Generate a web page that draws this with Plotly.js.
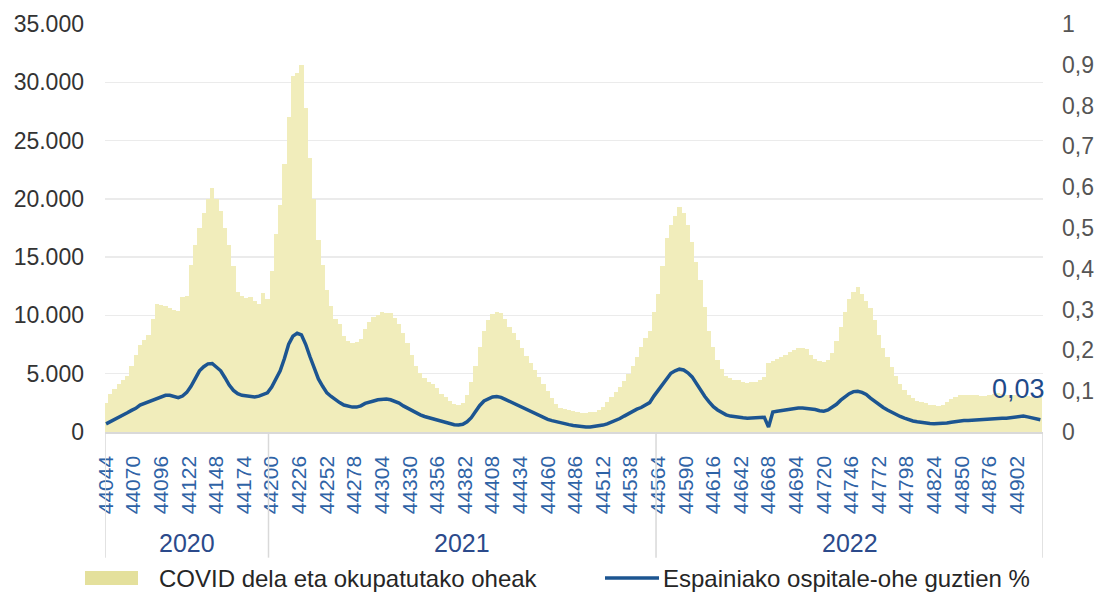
<!DOCTYPE html>
<html>
<head>
<meta charset="utf-8">
<script src="https://cdn.plot.ly/plotly-3.0.1.min.js"></script>
<style>
html,body{margin:0;padding:0;background:#fff;}
#chart{width:1104px;height:602px;}
</style>
</head>
<body>
<div id="chart"></div>
<script>
// Excel serial day of first sample, sampling step (days)
const startDay = 44044;
const stepDays = 4;

// COVID dela eta okupatutako oheak (beds occupied, every 4th day)
const beds = [
 2500,3300,3700,4100,4500,4800,5700,6600,7500,7900,
 8300,9700,11000,10900,10800,10600,10500,10400,11600,11700,
 14300,16000,17500,18800,20000,20900,20000,19000,17500,16000,
 14200,12000,11700,11500,11600,11200,11000,11900,11400,13800,
 17000,19500,23000,27000,30500,30800,31500,27800,23500,20000,
 16500,14300,12200,10800,9700,9300,8200,7800,7600,7700,
 8000,8800,9400,9850,10000,10300,10200,10200,9800,9300,
 8500,7600,6600,5700,5100,4600,4300,4100,3800,3300,
 3000,2700,2400,2300,2500,3200,4300,5700,7300,8700,
 9600,10100,10300,10200,9700,9000,8500,7900,7200,6500,
 5900,5300,4700,4100,3500,2900,2400,2100,1950,1850,
 1800,1700,1650,1650,1700,1750,1900,2150,2600,3000,
 3400,3900,4400,5000,5700,6450,7300,8100,8700,10300,
 11800,14200,16600,17800,18500,19300,18800,17800,16300,14600,
 13000,10700,8700,7300,6200,5400,4800,4600,4500,4450,
 4300,4200,4250,4300,4500,4700,5900,6100,6300,6400,
 6600,6850,7000,7200,7200,7100,6600,6300,6100,6000,
 6200,6800,7800,9000,10300,11400,12000,12400,11800,11200,
 10600,9600,8300,7200,6400,5600,4800,4100,3600,3200,
 2900,2700,2550,2450,2350,2300,2200,2300,2600,2850,
 3000,3150,3200,3200,3150,3150,3100,3100,3150,3250,
 3350,3300,3200,3150,3150,3100,3100,3050,3000,3000,
 3000
];

// Espainiako ospitale-ohe guztien % (share, every 4th day)
const share = [
 0.020,0.025,0.031,0.037,0.042,0.047,0.053,0.058,0.066,0.070,
 0.074,0.078,0.083,0.087,0.090,0.090,0.087,0.084,0.088,0.097,
 0.112,0.130,0.150,0.160,0.167,0.168,0.160,0.150,0.133,0.115,
 0.102,0.094,0.090,0.088,0.087,0.086,0.088,0.092,0.096,0.110,
 0.130,0.150,0.180,0.215,0.235,0.242,0.238,0.215,0.185,0.155,
 0.130,0.112,0.096,0.087,0.079,0.072,0.066,0.063,0.061,0.061,
 0.064,0.070,0.074,0.076,0.079,0.081,0.081,0.079,0.076,0.071,
 0.064,0.058,0.052,0.046,0.042,0.038,0.035,0.031,0.028,0.026,
 0.023,0.020,0.018,0.017,0.019,0.025,0.035,0.050,0.065,0.076,
 0.082,0.086,0.087,0.085,0.080,0.075,0.070,0.065,0.059,0.054,
 0.049,0.045,0.040,0.036,0.031,0.028,0.025,0.022,0.020,0.018,
 0.016,0.014,0.013,0.012,0.012,0.013,0.015,0.017,0.020,0.024,
 0.028,0.033,0.039,0.045,0.051,0.056,0.060,0.065,0.072,0.088,
 0.102,0.118,0.133,0.144,0.150,0.154,0.152,0.145,0.135,0.118,
 0.102,0.087,0.074,0.062,0.054,0.047,0.042,0.039,0.037,0.036,
 0.035,0.034,0.034,0.034,0.035,0.036,0.012,0.049,0.051,0.053,
 0.055,0.056,0.058,0.059,0.059,0.058,0.057,0.055,0.052,0.051,
 0.054,0.060,0.068,0.078,0.087,0.094,0.099,0.100,0.097,0.092,
 0.083,0.075,0.068,0.060,0.054,0.048,0.043,0.038,0.034,0.030,
 0.027,0.025,0.023,0.022,0.021,0.020,0.020,0.020,0.022,0.024,
 0.026,0.027,0.028,0.028,0.029,0.029,0.030,0.031,0.032,0.033,
 0.034,0.034,0.034,0.035,0.036,0.038,0.039,0.037,0.034,0.032,
 0.030
];

// Year groups on the category axis (Excel serial days)
const years = ["2020", "2021", "2022"];
const yearStart = [44044, 44197, 44562];
const yearEnd = [44197, 44562, 44927];

const seriesNames = ["COVID dela eta okupatutako oheak", "Espainiako ospitale-ohe guztien %"];
const lastLabel = "0,03";

const days = beds.map((_, i) => startDay + stepDays * i);

const barColor = "#f1edbb";
const lineColor = "#1c5591";
const FONT = "Liberation Sans, Arial, sans-serif";

const traces = [
  {
    type: "bar", x: days, y: beds, width: stepDays,
    marker: {color: barColor, line: {width: 0}},
    name: seriesNames[0], showlegend: false, hoverinfo: "x+y"
  },
  {
    type: "scatter", mode: "lines", x: days, y: share, yaxis: "y2",
    line: {color: lineColor, width: 3.5},
    name: seriesNames[1], showlegend: false
  }
];

const shapes = [];
const annotations = [];
// separators of year groups
const bounds = [yearStart[0] - 1, yearStart[1], yearStart[2], 44926.5];
bounds.forEach(b => {
  shapes.push({type: "line", xref: "x", yref: "paper", x0: b, x1: b, y0: 0, y1: -0.308,
    line: {color: "#d9d9d9", width: 1.5}});
});
years.forEach((yr, k) => {
  annotations.push({xref: "x", yref: "paper", x: (yearStart[k] + yearEnd[k]) / 2, y: -0.272,
    text: yr, showarrow: false, xanchor: "center", yanchor: "middle",
    font: {family: FONT, size: 25, color: "#2b4a8b"}});
});
// last value label
annotations.push({xref: "x", yref: "y2", x: 44903, y: 0.105, text: lastLabel, showarrow: false,
  xanchor: "center", yanchor: "middle",
  font: {family: FONT, size: 27, color: "#1f4a8a"}});

// custom legend
shapes.push({type: "rect", xref: "paper", yref: "paper",
  x0: (85 - 105) / 938, x1: (138 - 105) / 938, y0: -(571 - 432) / 408, y1: -(585 - 432) / 408,
  fillcolor: "#e4e09c", line: {width: 0}});
annotations.push({xref: "paper", yref: "paper", x: (157 - 105) / 938, y: -(578 - 432) / 408,
  text: seriesNames[0], showarrow: false, xanchor: "left", yanchor: "middle",
  font: {family: FONT, size: 24, color: "#262626"}});
shapes.push({type: "line", xref: "paper", yref: "paper",
  x0: (605 - 105) / 938, x1: (659 - 105) / 938, y0: -(578 - 432) / 408, y1: -(578 - 432) / 408,
  line: {color: lineColor, width: 3.5}});
annotations.push({xref: "paper", yref: "paper", x: (661 - 105) / 938, y: -(578 - 432) / 408,
  text: seriesNames[1], showarrow: false, xanchor: "left", yanchor: "middle",
  font: {family: FONT, size: 24, color: "#262626"}});

const layout = {
  width: 1104, height: 602,
  margin: {l: 105, r: 61, t: 24, b: 170, pad: 0},
  paper_bgcolor: "#ffffff", plot_bgcolor: "#ffffff",
  separators: ",.",
  bargap: 0,
  showlegend: false,
  font: {family: FONT, color: "#333"},
  xaxis: {
    range: [44043, 44926.5],
    tick0: startDay, dtick: 26, tickmode: "linear",
    tickformat: "d", tickangle: -90,
    tickfont: {size: 21, color: "#2f63a6"},
    ticks: "", ticklabelstandoff: 14,
    showgrid: false, zeroline: false,
    showline: true, linecolor: "#d9d9d9", linewidth: 1.5
  },
  yaxis: {
    range: [0, 35000], dtick: 5000, tickformat: ",d",
    tickfont: {size: 23, color: "#333"},
    gridcolor: "#ebebeb", gridwidth: 1.5, zeroline: false,
    showline: false, ticks: "", ticklabelstandoff: 20
  },
  yaxis2: {
    range: [0, 1], dtick: 0.1, overlaying: "y", side: "right",
    tickfont: {size: 23, color: "#555"},
    showgrid: false, zeroline: false, showline: false, ticks: "",
    ticklabelstandoff: 18
  },
  shapes: shapes,
  annotations: annotations
};

Plotly.newPlot("chart", traces, layout, {displayModeBar: false, staticPlot: true});
</script>
</body>
</html>
